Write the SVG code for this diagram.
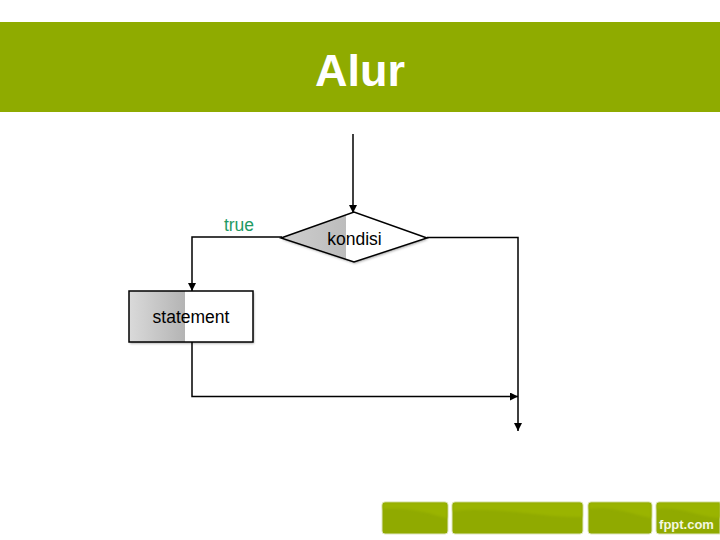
<svg xmlns="http://www.w3.org/2000/svg" width="720" height="540" viewBox="0 0 720 540">
<defs>
<linearGradient id="g" x1="0" x2="1" y1="0" y2="0"><stop offset="0" stop-color="#dadada"/><stop offset="1" stop-color="#b4b4b4"/></linearGradient>
<linearGradient id="d" x1="0" x2="1" y1="0" y2="0"><stop offset="0" stop-color="#cfcfcf"/><stop offset="1" stop-color="#bcbcbc"/></linearGradient>
<marker id="a" markerUnits="userSpaceOnUse" markerWidth="10" markerHeight="8" refX="8" refY="4" orient="auto"><path d="M0 0L8 4L0 8Z" fill="#000"/></marker>
<filter id="s" x="-5%" y="-5%" width="110%" height="115%"><feDropShadow dx="1" dy="1.5" stdDeviation="1" flood-color="#000" flood-opacity=".35"/></filter>
<filter id="b" x="-5%" y="-10%" width="110%" height="120%"><feGaussianBlur stdDeviation="1"/></filter>
<clipPath id="dc"><path d="M281 238L354 212L427 238L354 262Z"/></clipPath>
</defs>
<style>
.t{font-family:"Liberation Sans",Arial,sans-serif;font-size:17.500px;fill:#000;text-anchor:middle}
.c{fill:none;stroke:#000;stroke-width:1.500}
.tab{fill:#90aa00;stroke:#dfe6c0;stroke-width:1}
.hl{fill:#9ab400}
</style>
<rect width="720" height="540" fill="#fff"/>
<g id="header">
<rect x="0" y="22" width="720" height="90" fill="#8fab00"/>
<text x="360" y="86" text-anchor="middle" font-family="'Liberation Sans',Arial,sans-serif" font-size="45" font-weight="bold" fill="#fff">Alur</text>
</g>
<g id="connectors">
<path class="c" d="M353 134V213" marker-end="url(#a)"/>
<path class="c" d="M282 237H192V291" marker-end="url(#a)"/>
<path class="c" d="M427 237.500H518V431" marker-end="url(#a)"/>
<path class="c" d="M192 342V396.500H518" marker-end="url(#a)"/>
</g>
<g id="decision">
<path d="M281 238L354 212L427 238L354 262Z" fill="#fff" filter="url(#s)"/>
<rect x="281" y="210" width="65" height="54" fill="url(#d)" clip-path="url(#dc)"/>
<path d="M281 238L354 212L427 238L354 262Z" fill="none" stroke="#000" stroke-width="1.500"/>
<text class="t" x="354.500" y="245">kondisi</text>
</g>
<g id="statement">
<rect x="129" y="291" width="124" height="51" fill="#fff" filter="url(#s)"/>
<rect x="129" y="291" width="56" height="51" fill="url(#g)"/>
<rect x="129" y="291" width="124" height="51" fill="none" stroke="#000" stroke-width="1.500"/>
<text class="t" x="191" y="323">statement</text>
</g>
<text id="label-true" class="t" x="239" y="231" style="fill:#1f9a63">true</text>
<g id="footer">
<rect class="tab" x="382" y="502" width="66" height="32" rx="3"/>
<rect class="tab" x="452" y="502" width="131" height="32" rx="3"/>
<rect class="tab" x="588" y="502" width="64" height="32" rx="3"/>
<path class="tab" d="M656 505a3 3 0 0 1 3-3H720V534H659a3 3 0 0 1-3-3Z"/>
<path class="hl" filter="url(#b)" d="M385 503H445a2 2 0 0 1 2 2V518C430 514 415 507 383 509V505a2 2 0 0 1 2-2Z"/>
<path class="hl" filter="url(#b)" d="M455 503H580a2 2 0 0 1 2 2V517C540 518 500 506 453 511V505a2 2 0 0 1 2-2Z"/>
<path class="hl" filter="url(#b)" d="M591 503H649a2 2 0 0 1 2 2V518C630 514 615 506 589 509V505a2 2 0 0 1 2-2Z"/>
<path class="hl" filter="url(#b)" d="M659 503H720V518C695 516 680 506 657 509V505a2 2 0 0 1 2-2Z"/>
<text x="686.500" y="529" text-anchor="middle" font-family="'Liberation Sans',Arial,sans-serif" font-size="13" font-weight="bold" fill="#f4f7e0">fppt.com</text>
</g>
</svg>
